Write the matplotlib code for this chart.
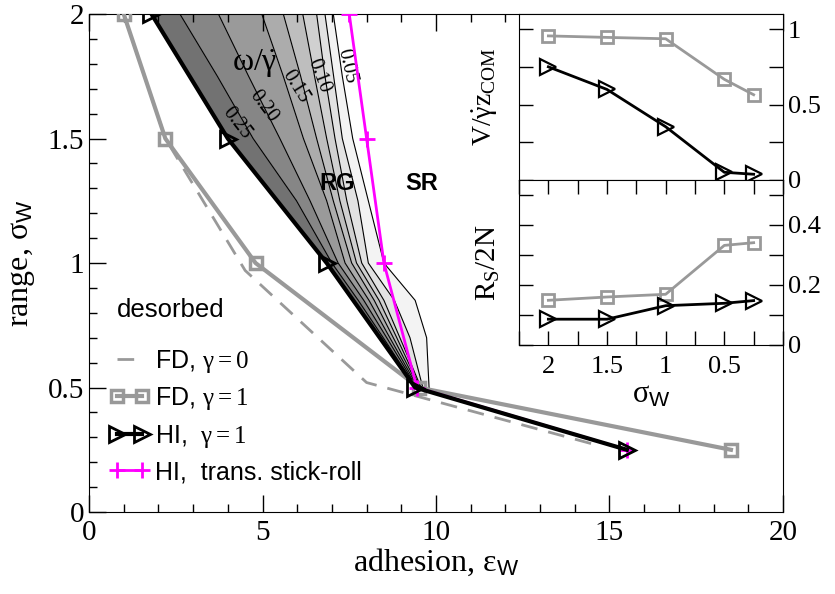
import numpy as np
import matplotlib
matplotlib.use("Agg")
from matplotlib import pyplot as plt
from matplotlib.ticker import MultipleLocator, FuncFormatter

plt.rcParams['font.family'] = ['Liberation Serif', 'DejaVu Serif']
plt.rcParams['mathtext.fontset'] = 'custom'
plt.rcParams['mathtext.rm'] = 'Liberation Serif'
plt.rcParams['mathtext.it'] = 'Liberation Serif'
plt.rcParams['mathtext.bf'] = 'Liberation Serif:bold'
plt.rcParams['mathtext.sf'] = 'Liberation Sans'

# ---- main panel data: adhesion eps_W vs range sigma_W ----
sig_pts = [2.0, 1.5, 1.0, 0.5, 0.25]
eps_fd1 = [1.0, 2.2, 4.8, 9.5, 18.5]      # FD, gamma = 1
eps_hi1 = [1.8, 4.0, 6.85, 9.4, 15.5]     # HI, gamma = 1
eps_trans = [7.5, 8.0, 8.5, 9.45, 15.5]   # HI, transition stick-roll
eps_fd0 = [1.0, 2.2, 4.5, 8.0, 14.6]      # FD, gamma = 0
sig_fd0 = [2.0, 1.5, 0.97, 0.52, 0.27]

# contour lines of omega/gamma_dot (x position at each sigma sample)
sig_cont = [2.0, 1.75, 1.5, 1.25, 1.0, 0.85, 0.7, 0.5]
cont_lines = [
    [1.80, 2.90, 4.00, 5.43, 6.85, 7.62, 8.38, 9.40],  # HI boundary
    [2.62, 3.70, 4.73, 5.98, 7.00, 7.76, 8.48, 9.42],
    [3.73, 4.60, 5.50, 6.37, 7.18, 7.92, 8.58, 9.45],
    [4.98, 5.60, 6.18, 6.85, 7.38, 8.07, 8.67, 9.48],
    [5.60, 6.10, 6.56, 7.04, 7.57, 8.22, 8.77, 9.51],
    [6.16, 6.50, 6.85, 7.23, 7.71, 8.36, 8.87, 9.54],
    [6.56, 6.80, 7.09, 7.43, 7.86, 8.50, 8.96, 9.57],
    [6.80, 7.05, 7.30, 7.75, 8.05, 8.80, 9.25, 9.62],
    [7.04, 7.30, 7.60, 8.05, 8.50, 9.40, 9.73, 9.80],
]
band_grays = ['#727272', '#868686', '#9a9a9a', '#acacac', '#bebebe',
              '#d0d0d0', '#e2e2e2', '#f3f3f3']
clab_text = ['0.25', '0.20', '0.15', '0.10', '0.05']
clab_x = [4.25, 5.02, 5.94, 6.61, 7.42]
clab_y = [1.56, 1.63, 1.71, 1.75, 1.79]
clab_rot = [-52, -53, -58, -69, -77]

# ---- inset data ----
sig_inset = [2.0, 1.5, 1.0, 0.5, 0.25]
v_fd = [0.955, 0.945, 0.936, 0.667, 0.565]
v_hi = [0.75, 0.60, 0.353, 0.051, 0.038]
r_fd = [0.149, 0.160, 0.169, 0.332, 0.341]
r_hi = [0.086, 0.086, 0.131, 0.139, 0.148]

gray = '#999999'
fmt = FuncFormatter(lambda v, p: '%g' % v)

fig = plt.figure(figsize=(8.35, 5.94), dpi=100)
ax = fig.add_axes([0.1066, 0.138, 0.8311, 0.8384])

# filled contour bands
for i in range(len(cont_lines) - 1):
    ax.fill_betweenx(sig_cont, cont_lines[i], cont_lines[i + 1],
                     color=band_grays[i], lw=0, zorder=1)
for line in cont_lines[1:]:
    ax.plot(line, sig_cont, color='black', lw=0.8, zorder=2)
for t, x, y, r in zip(clab_text, clab_x, clab_y, clab_rot):
    ax.text(x, y, t, rotation=r, ha='center', va='center', fontsize=14.5, zorder=3)
ax.text(4.78, 1.80, r'$\omega/\dot{\gamma}$', ha='center', va='center',
        fontsize=23, zorder=3)

ax.plot(eps_fd0, sig_fd0, color=gray, lw=2, dashes=(6, 4), zorder=4,
        label=r'FD, $\gamma = 0$')
ax.plot(eps_fd1, sig_pts, color=gray, lw=3, marker='s', ms=9, mfc='none',
        mec=gray, mew=2.5, zorder=5, label=r'FD, $\gamma = 1$')
ax.plot(eps_hi1, sig_pts, color='black', lw=3, marker='>', ms=11, mfc='none',
        mec='black', mew=2, zorder=7, label=r'HI,  $\gamma = 1$')
ax.plot(eps_trans, sig_pts, color='magenta', lw=2, marker='+', ms=12,
        mew=2, zorder=6, label='HI,  trans. stick-roll')

ax.text(7.16, 1.32, 'RG', fontsize=17, fontweight='bold', family='Liberation Sans',
        ha='center', va='center')
ax.text(9.6, 1.32, 'SR', fontsize=17, fontweight='bold', family='Liberation Sans',
        ha='center', va='center')
ax.text(0.8, 0.81, 'desorbed', fontsize=18.5, family='Liberation Sans',
        ha='left', va='center')

ax.set_xlim(0, 20)
ax.set_ylim(0, 2)
ax.xaxis.set_major_locator(MultipleLocator(5))
ax.xaxis.set_minor_locator(MultipleLocator(1))
ax.yaxis.set_major_locator(MultipleLocator(0.5))
ax.yaxis.set_minor_locator(MultipleLocator(0.1))
ax.xaxis.set_major_formatter(fmt)
ax.yaxis.set_major_formatter(fmt)
ax.tick_params(which='both', direction='in', top=True, right=False, labelsize=21)
ax.tick_params(axis='x', which='major', pad=6)
ax.tick_params(which='major', length=12, width=1)
ax.tick_params(which='minor', length=6, width=1)
ax.set_xlabel(r'adhesion, $\varepsilon_{\mathsf{W}}$', fontsize=23, labelpad=0)
ax.set_ylabel(r'range, $\sigma_{\mathsf{W}}$', fontsize=23, labelpad=8)

leg = ax.legend(loc='upper left', bbox_to_anchor=(0.03, 0.33), frameon=False,
                borderpad=0, borderaxespad=0, handlelength=1.6, handletextpad=0.2,
                labelspacing=0.42, numpoints=2,
                prop={'family': 'Liberation Sans', 'size': 18})

# ---- inset ----
ax1 = fig.add_axes([0.6216, 0.697, 0.3161, 0.2794])
ax2 = fig.add_axes([0.6216, 0.4192, 0.3161, 0.2778])

ax1.plot(sig_inset, v_fd, color=gray, lw=2, marker='s', ms=9, mfc='none',
         mec=gray, mew=2)
ax1.plot(sig_inset, v_hi, color='black', lw=2, marker='>', ms=11, mfc='none',
         mec='black', mew=1.6)
ax2.plot(sig_inset, r_fd, color=gray, lw=2, marker='s', ms=9, mfc='none',
         mec=gray, mew=2)
ax2.plot(sig_inset, r_hi, color='black', lw=2, marker='>', ms=11, mfc='none',
         mec='black', mew=1.6)

for a in (ax1, ax2):
    a.set_xlim(2.25, 0)
    a.set_xticks([2, 1.5, 1, 0.5])
    a.xaxis.set_minor_locator(MultipleLocator(0.25))
    a.xaxis.set_major_formatter(fmt)
    a.yaxis.set_major_formatter(fmt)
    a.tick_params(which='both', direction='in', left=True, right=True,
                  labelleft=False, labelright=True, labelsize=19, width=1)
    a.tick_params(which='major', length=10)
    a.tick_params(which='minor', length=10)
    a.tick_params(axis='x', which='major', pad=8)

ax1.set_ylim(0, 1.1)
ax1.yaxis.set_major_locator(MultipleLocator(0.5))
ax1.yaxis.set_minor_locator(MultipleLocator(0.25))
ax1.tick_params(which='both', bottom=False, labelbottom=False)
ax1.set_ylabel(r'$\mathrm{V}/\dot{\gamma}\mathrm{z}_{\mathrm{COM}}$', fontsize=20,
               labelpad=14)

ax2.set_ylim(0, 0.55)
ax2.yaxis.set_major_locator(MultipleLocator(0.2))
ax2.yaxis.set_minor_locator(MultipleLocator(0.1))
ax2.tick_params(which='both', top=True)
ax2.set_ylabel(r'$\mathrm{R}_{\mathrm{S}}/\mathrm{2N}$', fontsize=21, labelpad=12)
ax2.set_xlabel(r'$\sigma_{\mathsf{W}}$', fontsize=22, labelpad=2)

fig.savefig('out.png', dpi=100)
